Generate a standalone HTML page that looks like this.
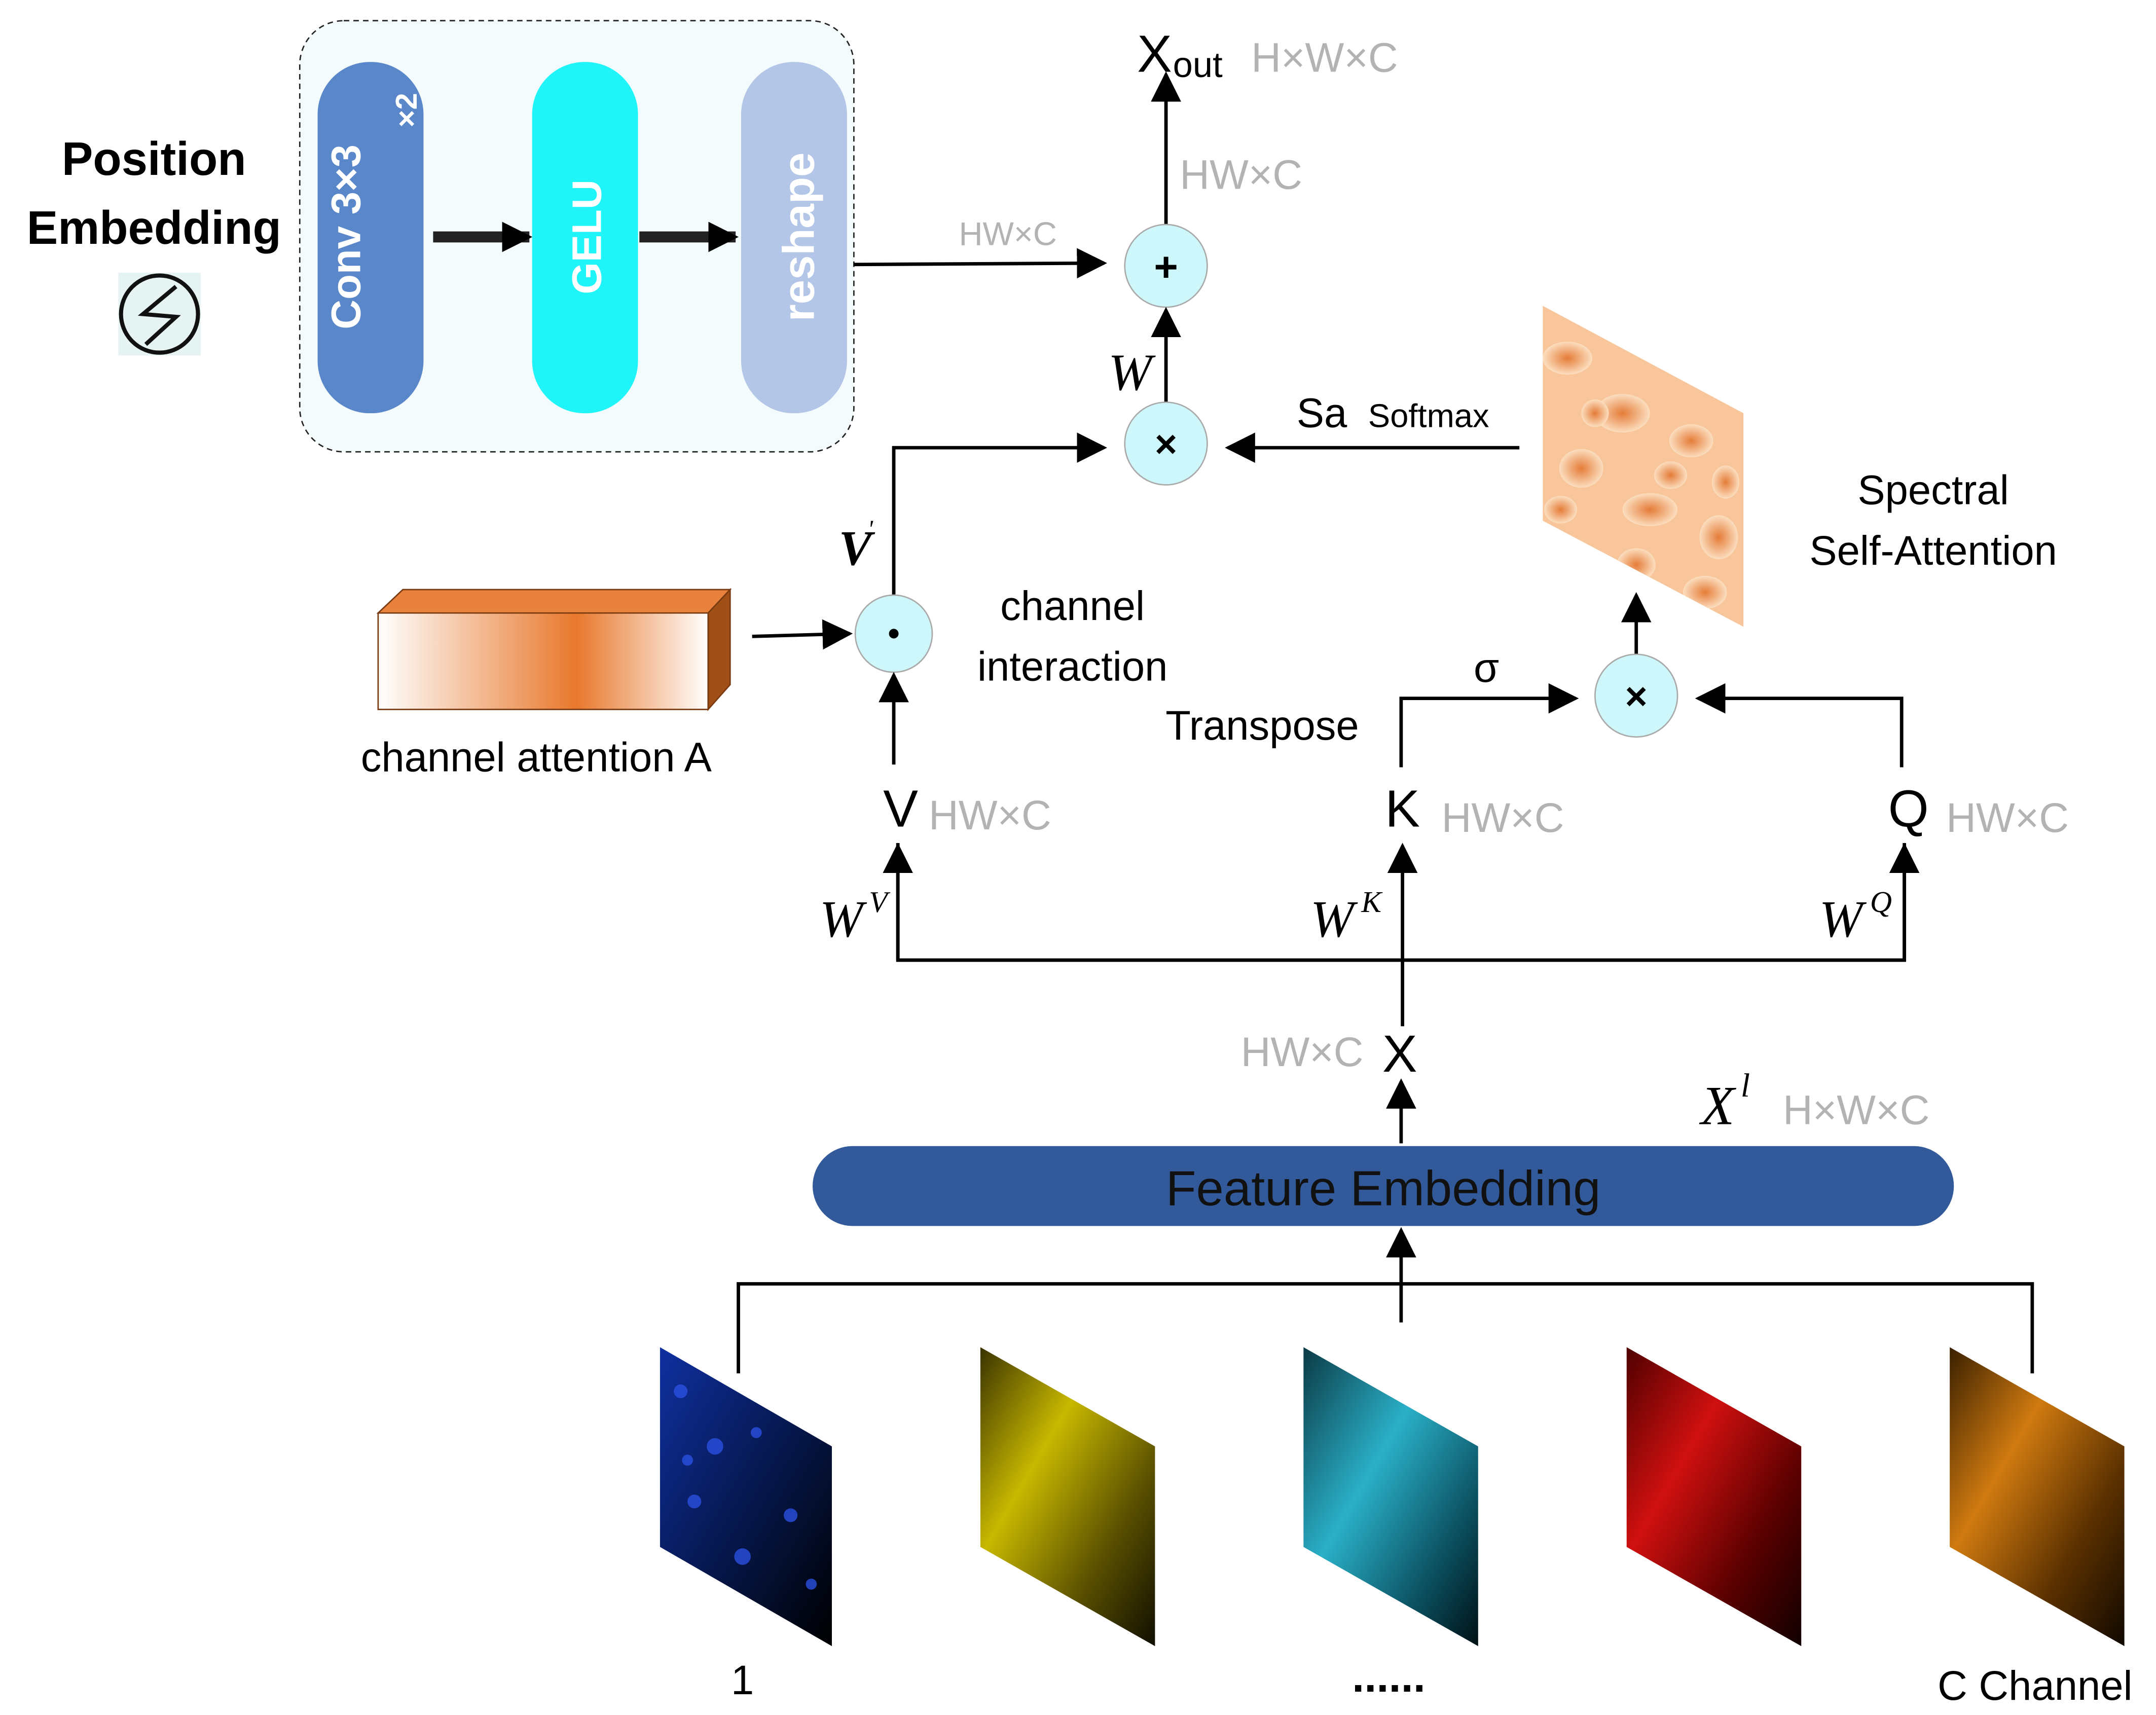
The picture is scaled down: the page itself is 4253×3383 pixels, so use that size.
<!DOCTYPE html>
<html><head><meta charset="utf-8"><style>
html,body{margin:0;padding:0;background:#fff}
svg{display:block}
text{font-family:"Liberation Sans",sans-serif}
.g{fill:#b3b3b3}
.it{font-family:"Liberation Serif",serif;font-style:italic}
</style></head><body>
<svg width="4253" height="3383" viewBox="0 0 1568 1245" preserveAspectRatio="none" xmlns="http://www.w3.org/2000/svg">
<defs>
<marker id="a" markerWidth="10" markerHeight="10" refX="9" refY="5" orient="auto" markerUnits="userSpaceOnUse"><path d="M0,0 L22,5 L0,10 Z" transform="scale(0.45,1)" fill="#000"/></marker>
<marker id="ab" viewBox="0 0 10 10" markerWidth="22" markerHeight="22" refX="9" refY="5" orient="auto" markerUnits="userSpaceOnUse"><path d="M0,0 L10,5 L0,10 Z" fill="#000"/></marker>
<linearGradient id="ca" x1="0" x2="1"><stop offset="0" stop-color="#fff"/><stop offset="0.6" stop-color="#e8782c"/><stop offset="1" stop-color="#fff"/></linearGradient>
<radialGradient id="hm"><stop offset="0" stop-color="#e06a20"/><stop offset="1" stop-color="#fde4c8"/></radialGradient>
<linearGradient id="blue" x1="0" y1="0" x2="1" y2="1"><stop offset="0" stop-color="#1030a0"/><stop offset="0.5" stop-color="#061850"/><stop offset="1" stop-color="#000"/></linearGradient>
<linearGradient id="yel" x1="0" y1="0" x2="1" y2="1"><stop offset="0" stop-color="#3a3300"/><stop offset="0.35" stop-color="#c8b800"/><stop offset="0.7" stop-color="#5a5000"/><stop offset="1" stop-color="#100e00"/></linearGradient>
<linearGradient id="cy" x1="0" y1="0" x2="1" y2="1"><stop offset="0" stop-color="#0b3a45"/><stop offset="0.4" stop-color="#2ab0c8"/><stop offset="0.75" stop-color="#0b5060"/><stop offset="1" stop-color="#001015"/></linearGradient>
<linearGradient id="red" x1="0" y1="0" x2="1" y2="1"><stop offset="0" stop-color="#500000"/><stop offset="0.35" stop-color="#d01010"/><stop offset="0.7" stop-color="#5a0000"/><stop offset="1" stop-color="#100000"/></linearGradient>
<linearGradient id="or" x1="0" y1="0" x2="1" y2="1"><stop offset="0" stop-color="#3a2000"/><stop offset="0.35" stop-color="#d07a10"/><stop offset="0.7" stop-color="#5a3000"/><stop offset="1" stop-color="#100800"/></linearGradient>
</defs>

<!-- Position embedding box -->
<rect x="218" y="15" width="403" height="313" rx="32" fill="#f3fbfc" stroke="#222" stroke-dasharray="4,3"/>
<rect x="231" y="45" width="77" height="255" rx="38" fill="#5a87c9"/>
<rect x="387" y="45" width="77" height="255" rx="38" fill="#1ff5f8"/>
<rect x="539" y="45" width="77" height="255" rx="38" fill="#b4c6e7"/>
<text transform="translate(262,172) rotate(-90)" text-anchor="middle" font-size="30" font-weight="bold" fill="#fff">Conv 3×3</text>
<text transform="translate(303,80) rotate(-90)" text-anchor="middle" font-size="22" font-weight="bold" fill="#fff">×2</text>
<text transform="translate(437,172) rotate(-90)" text-anchor="middle" font-size="30" font-weight="bold" fill="#fff">GELU</text>
<text transform="translate(592,172) rotate(-90)" text-anchor="middle" font-size="32" font-weight="bold" fill="#fff">reshape</text>
<line x1="315" y1="172" x2="385" y2="172" stroke="#222" stroke-width="8" marker-end="url(#ab)"/>
<line x1="465" y1="172" x2="535" y2="172" stroke="#222" stroke-width="8" marker-end="url(#ab)"/>
<text x="112" y="127" text-anchor="middle" font-size="34" font-weight="bold">Position</text>
<text x="112" y="177" text-anchor="middle" font-size="34" font-weight="bold">Embedding</text>
<rect x="86" y="198" width="60" height="60" fill="#e6f3f3"/>
<circle cx="116" cy="228" r="28" fill="none" stroke="#111" stroke-width="3"/>
<path d="M128,208 L104,228 L128,230 L106,250" fill="none" stroke="#111" stroke-width="3"/>

<line x1="621" y1="192" x2="803" y2="191" stroke="#000" stroke-width="2.5" marker-end="url(#ab)"/>
<text x="733" y="178" text-anchor="middle" font-size="24" class="g">HW×C</text>

<!-- circles top -->
<line x1="848" y1="163" x2="848" y2="54" stroke="#000" stroke-width="2.5" marker-end="url(#ab)"/>
<text x="827" y="52" font-size="38">X</text><text x="853" y="56" font-size="26">out</text>
<text x="910" y="52" font-size="30" class="g">H×W×C</text>
<text x="858" y="137" font-size="30" class="g">HW×C</text>
<circle cx="848" cy="193" r="30" fill="#cdf7fb" stroke="#aaa"/>
<text x="848" y="204" text-anchor="middle" font-size="30" font-weight="bold">+</text>
<line x1="848" y1="292" x2="848" y2="225" stroke="#000" stroke-width="2.5" marker-end="url(#ab)"/>
<text x="806" y="283" font-size="38" class="it">W</text>
<circle cx="848" cy="322" r="30" fill="#cdf7fb" stroke="#aaa"/>
<text x="848" y="332" text-anchor="middle" font-size="28" font-weight="bold">×</text>
<polyline points="650,432 650,325 803,325" fill="none" stroke="#000" stroke-width="2.5" marker-end="url(#ab)"/>
<line x1="1105" y1="325" x2="893" y2="325" stroke="#000" stroke-width="2.5" marker-end="url(#ab)"/>
<text x="943" y="310" font-size="30">Sa</text>
<text x="995" y="310" font-size="24">Softmax</text>

<!-- heatmap -->
<g>
<clipPath id="hc"><polygon points="1122,222 1268,300 1268,455 1122,378"/></clipPath>
<g clip-path="url(#hc)">
<rect x="1110" y="215" width="170" height="250" fill="#f8c69a"/>
<g fill="url(#hm)" opacity="0.8">
<ellipse cx="1140" cy="260" rx="18" ry="12"/><ellipse cx="1180" cy="300" rx="20" ry="14"/><ellipse cx="1230" cy="320" rx="16" ry="12"/>
<ellipse cx="1150" cy="340" rx="16" ry="14"/><ellipse cx="1200" cy="370" rx="20" ry="12"/><ellipse cx="1250" cy="390" rx="14" ry="16"/>
<ellipse cx="1160" cy="300" rx="10" ry="10"/><ellipse cx="1215" cy="345" rx="12" ry="10"/><ellipse cx="1240" cy="430" rx="16" ry="12"/>
<ellipse cx="1135" cy="370" rx="12" ry="10"/><ellipse cx="1190" cy="410" rx="14" ry="12"/><ellipse cx="1255" cy="350" rx="10" ry="12"/>
</g></g></g>
<text x="1406" y="366" text-anchor="middle" font-size="30">Spectral</text>
<text x="1406" y="410" text-anchor="middle" font-size="30">Self-Attention</text>
<line x1="1190" y1="475" x2="1190" y2="432" stroke="#000" stroke-width="2.5" marker-end="url(#ab)"/>
<circle cx="1190" cy="505" r="30" fill="#cdf7fb" stroke="#aaa"/>
<text x="1190" y="515" text-anchor="middle" font-size="28" font-weight="bold">×</text>
<polyline points="1019,557 1019,507 1146,507" fill="none" stroke="#000" stroke-width="2.5" marker-end="url(#ab)"/>
<polyline points="1383,557 1383,507 1235,507" fill="none" stroke="#000" stroke-width="2.5" marker-end="url(#ab)"/>
<text x="1081" y="495" text-anchor="middle" font-size="30">σ</text>
<text x="918" y="537" text-anchor="middle" font-size="30">Transpose</text>

<!-- channel attention -->
<rect x="275" y="445" width="240" height="70" fill="url(#ca)" stroke="#7a3a10"/>
<polygon points="275,445 293,428 531,428 515,445" fill="#e8823c" stroke="#7a3a10"/>
<polygon points="515,445 531,428 531,497 515,515" fill="#a04f16" stroke="#7a3a10"/>
<text x="390" y="560" text-anchor="middle" font-size="30">channel attention A</text>
<line x1="547" y1="462" x2="618" y2="460" stroke="#000" stroke-width="2.5" marker-end="url(#ab)"/>
<circle cx="650" cy="460" r="28" fill="#cdf7fb" stroke="#aaa"/>
<circle cx="650" cy="460" r="3.5" fill="#000"/>
<text x="780" y="450" text-anchor="middle" font-size="30">channel</text>
<text x="780" y="494" text-anchor="middle" font-size="30">interaction</text>
<text x="610" y="410" font-size="36" class="it" font-weight="bold">V</text><text x="631" y="390" font-size="18" class="it">'</text>
<line x1="650" y1="555" x2="650" y2="490" stroke="#000" stroke-width="2.5" marker-end="url(#ab)"/>

<!-- V K Q -->
<text x="655" y="600" text-anchor="middle" font-size="38">V</text>
<text x="720" y="602" text-anchor="middle" font-size="30" class="g">HW×C</text>
<text x="1020" y="600" text-anchor="middle" font-size="38">K</text>
<text x="1093" y="604" text-anchor="middle" font-size="30" class="g">HW×C</text>
<text x="1388" y="600" text-anchor="middle" font-size="38">Q</text>
<text x="1460" y="604" text-anchor="middle" font-size="30" class="g">HW×C</text>
<polyline points="653,612 653,697 1385,697 1385,612" fill="none" stroke="#000" stroke-width="2.5"/>
<line x1="653" y1="697" x2="653" y2="614" stroke="#000" stroke-width="2.5" marker-end="url(#ab)"/>
<line x1="1385" y1="697" x2="1385" y2="614" stroke="#000" stroke-width="2.5" marker-end="url(#ab)"/>
<line x1="1020" y1="745" x2="1020" y2="614" stroke="#000" stroke-width="2.5" marker-end="url(#ab)"/>
<text x="596" y="680" font-size="38" class="it">W</text><text x="632" y="662" font-size="22" class="it">V</text>
<text x="953" y="680" font-size="38" class="it">W</text><text x="990" y="662" font-size="22" class="it">K</text>
<text x="1323" y="680" font-size="38" class="it">W</text><text x="1360" y="662" font-size="22" class="it">Q</text>

<text x="947" y="774" text-anchor="middle" font-size="30" class="g">HW×C</text>
<text x="1018" y="778" text-anchor="middle" font-size="38">X</text>
<line x1="1019" y1="830" x2="1019" y2="785" stroke="#000" stroke-width="2.5" marker-end="url(#ab)"/>
<text x="1237" y="816" font-size="40" class="it">X</text><text x="1266" y="796" font-size="24" class="it">l</text>
<text x="1350" y="816" text-anchor="middle" font-size="30" class="g">H×W×C</text>

<rect x="591" y="832" width="830" height="58" rx="29" fill="#325a9a"/>
<text x="1006" y="875" text-anchor="middle" font-size="36" fill="#111">Feature Embedding</text>
<line x1="1019" y1="960" x2="1019" y2="893" stroke="#000" stroke-width="2.5" marker-end="url(#ab)"/>
<polyline points="537,997 537,932 1478,932 1478,997" fill="none" stroke="#000" stroke-width="2.5"/>

<!-- channel images -->
<polygon points="480,978 605,1050 605,1195 480,1123" fill="url(#blue)"/>
<g fill="#2a50e0" opacity="0.8"><circle cx="495" cy="1010" r="5"/><circle cx="520" cy="1050" r="6"/><circle cx="505" cy="1090" r="5"/><circle cx="550" cy="1040" r="4"/><circle cx="575" cy="1100" r="5"/><circle cx="540" cy="1130" r="6"/><circle cx="590" cy="1150" r="4"/><circle cx="500" cy="1060" r="4"/></g>
<polygon points="713,978 840,1050 840,1195 713,1123" fill="url(#yel)"/>
<polygon points="948,978 1075,1050 1075,1195 948,1123" fill="url(#cy)"/>
<polygon points="1183,978 1310,1050 1310,1195 1183,1123" fill="url(#red)"/>
<polygon points="1418,978 1545,1050 1545,1195 1418,1123" fill="url(#or)"/>
<text x="540" y="1230" text-anchor="middle" font-size="30">1</text>
<text x="1010" y="1228" text-anchor="middle" font-size="32" font-weight="bold">......</text>
<text x="1480" y="1234" text-anchor="middle" font-size="30">C  Channel</text>
</svg>
</body></html>
